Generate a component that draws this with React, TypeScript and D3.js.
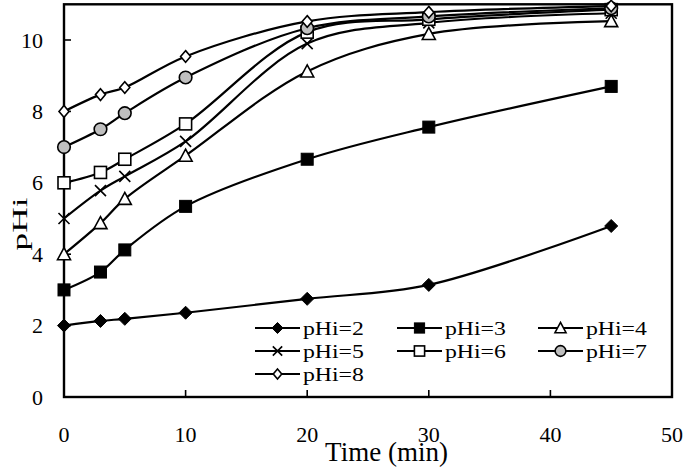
import React from "react";
import * as d3 from "d3";

const times = [0, 3, 5, 10, 20, 30, 45];
const pHi2 = [2.0, 2.13, 2.19, 2.36, 2.75, 3.14, 4.79];
const pHi3 = [3.0, 3.5, 4.12, 5.34, 6.66, 7.56, 8.7];
const pHi4 = [4.0, 4.87, 5.55, 6.76, 9.12, 10.17, 10.53];
const pHi5 = [5.0, 5.78, 6.18, 7.16, 9.9, 10.48, 10.75];
const pHi6 = [6.0, 6.29, 6.66, 7.65, 10.22, 10.58, 10.85];
const pHi7 = [7.0, 7.5, 7.95, 8.95, 10.33, 10.66, 10.89];
const pHi8 = [8.0, 8.47, 8.67, 9.54, 10.52, 10.78, 10.95];
const seriesNames = ["pHi=2", "pHi=3", "pHi=4", "pHi=5", "pHi=6", "pHi=7", "pHi=8"];
const seriesValues = [pHi2, pHi3, pHi4, pHi5, pHi6, pHi7, pHi8];
const markerKinds = ["diamondFilled", "square", "triangle", "cross", "squareOpen", "circle", "diamondOpen"];
const xTicks = [0, 10, 20, 30, 40, 50];
const yTicks = [0, 2, 4, 6, 8, 10];

const W = 685, H = 471;
const FONT = "Liberation Serif, Times New Roman, Tinos, serif";

function Marker({ kind, x, y, s = 1 }: { kind: string; x: number; y: number; s?: number }) {
  const sw = 1.6;
  switch (kind) {
    case "diamondFilled": {
      const r = 6.5 * s;
      return <path d={`M${x},${y - r}L${x + r},${y}L${x},${y + r}L${x - r},${y}Z`} fill="#000" stroke="#000" strokeWidth={1} />;
    }
    case "diamondOpen": {
      const rx = 5 * s, ry = 5.8 * s;
      return <path d={`M${x},${y - ry}L${x + rx},${y}L${x},${y + ry}L${x - rx},${y}Z`} fill="#fff" stroke="#000" strokeWidth={sw} />;
    }
    case "square": {
      const r = 6 * s;
      return <rect x={x - r} y={y - r} width={2 * r} height={2 * r} fill="#000" stroke="#000" strokeWidth={1} />;
    }
    case "squareOpen": {
      const r = 6 * s;
      return <rect x={x - r} y={y - r} width={2 * r} height={2 * r} fill="#fff" stroke="#000" strokeWidth={sw} />;
    }
    case "triangle": {
      const r = 6.5 * s;
      return <path d={`M${x},${y - r}L${x + r},${y + r * 0.85}L${x - r},${y + r * 0.85}Z`} fill="#fff" stroke="#000" strokeWidth={sw} />;
    }
    case "cross": {
      const r = 5.5 * s;
      return <path d={`M${x - r},${y - r}L${x + r},${y + r}M${x - r},${y + r}L${x + r},${y - r}`} fill="none" stroke="#000" strokeWidth={sw} />;
    }
    case "circle":
      return <circle cx={x} cy={y} r={6.3 * s} fill="#bfbfbf" stroke="#000" strokeWidth={sw} />;
    default:
      return null;
  }
}

export default function App() {
  const x = d3.scaleLinear().domain([0, 50]).range([64, 672]);
  const y = d3.scaleLinear().domain([0, 11]).range([397, 4.3]);
  const line = d3
    .line<number>()
    .x((_, i) => x(times[i]))
    .y((d) => y(d))
    .curve(d3.curveCatmullRom.alpha(0.5));

  const legendCols = [255, 397, 538];
  const legendRows = [328, 351, 374];

  return (
    <svg width={W} height={H} style={{ position: "absolute", left: 0, top: 0, background: "#fff", fontFamily: FONT }}>
      <rect x={0} y={0} width={W} height={H} fill="#fff" />
      <rect x={x(0)} y={y(11)} width={x(50) - x(0)} height={y(0) - y(11)} fill="none" stroke="#000" strokeWidth={2.4} />
      {yTicks.map((t) => (
        <g key={"y" + t}>
          <line x1={x(0)} x2={x(0) + 7} y1={y(t)} y2={y(t)} stroke="#000" strokeWidth={1.6} />
          <text x={43} y={y(t) + 7.5} textAnchor="end" fontSize={22}>
            {t}
          </text>
        </g>
      ))}
      {xTicks.map((t) => (
        <g key={"x" + t}>
          <line x1={x(t)} x2={x(t)} y1={y(0)} y2={y(0) - 7} stroke="#000" strokeWidth={1.6} />
          <text x={x(t)} y={442} textAnchor="middle" fontSize={22}>
            {t}
          </text>
        </g>
      ))}
      <text x={386.5} y={461} textAnchor="middle" fontSize={27}>
        Time (min)
      </text>
      <text transform={`translate(27,224) rotate(-90) scale(1.6,1)`} textAnchor="middle" fontSize={22}>
        pHi
      </text>
      {seriesValues.map((vals, si) => (
        <g key={seriesNames[si]}>
          <path d={line(vals) || ""} fill="none" stroke="#000" strokeWidth={2.2} />
          {vals.map((v, i) => (
            <Marker key={i} kind={markerKinds[si]} x={x(times[i])} y={y(v)} />
          ))}
        </g>
      ))}
      {seriesNames.map((name, si) => {
        const cx = legendCols[si % 3];
        const cy = legendRows[Math.floor(si / 3)];
        return (
          <g key={"lg" + name}>
            <line x1={cx} x2={cx + 45} y1={cy} y2={cy} stroke="#000" strokeWidth={2.2} />
            <Marker kind={markerKinds[si]} x={cx + 22.5} y={cy} s={0.85} />
            <text transform={`translate(${cx + 48},${cy + 7}) scale(1.25,1)`} fontSize={19}>
              {name}
            </text>
          </g>
        );
      })}
    </svg>
  );
}
